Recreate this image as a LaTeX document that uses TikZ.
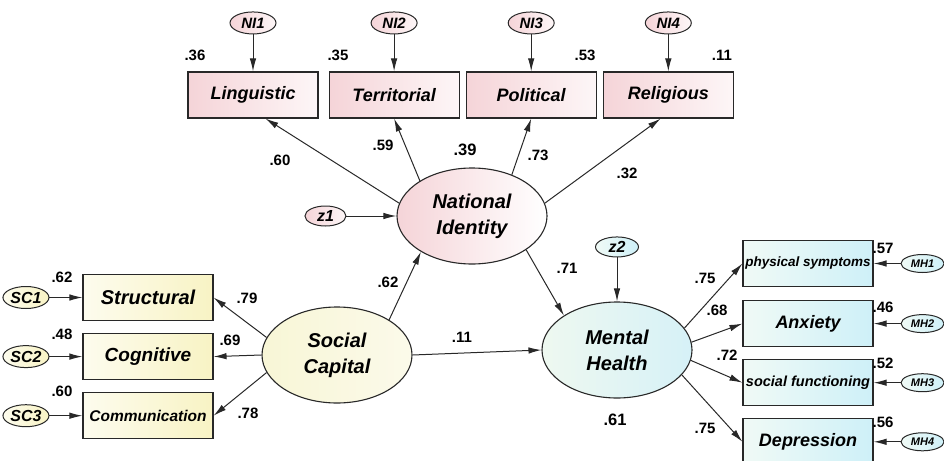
\documentclass[tikz,border=0pt]{standalone}
\usepackage{fontspec}
\setmainfont{Liberation Sans}
\usetikzlibrary{arrows.meta,positioning,shapes.geometric}
\definecolor{edgegray}{RGB}{40,40,40}
\definecolor{pinkL}{RGB}{245,212,216}
\definecolor{pinkR}{RGB}{253,246,247}
\definecolor{yelL}{RGB}{253,252,238}
\definecolor{yelR}{RGB}{248,243,196}
\definecolor{cyanL}{RGB}{240,250,246}
\definecolor{cyanR}{RGB}{206,240,248}
\tikzset{
    %Define standard arrow tip
    >={Latex[length=13pt,width=6.5pt]},
    %Define style for latent variables
    latent/.style={
      ellipse,
      draw=edgegray, line width=1.1pt,
      minimum width=150pt,
      minimum height=96pt,
      inner sep=0pt,
      align=center,
      font=\fontsize{20}{26}\selectfont\bfseries\itshape},
    %Define style for observed variables
    indic/.style={
      rectangle,
      draw=edgegray, line width=1.1pt,
      minimum width=130pt,
      minimum height=46pt,
      inner sep=0pt,
      font=\fontsize{18}{18}\selectfont\bfseries\itshape},
    %Define style for error terms
    err/.style={
      ellipse,
      draw=edgegray, line width=1pt,
      minimum width=46pt,
      minimum height=22pt,
      inner sep=0pt,
      font=\fontsize{15}{15}\selectfont\bfseries\itshape},
    %Define style for coefficients
    coef/.style={
      inner sep=0pt,
      font=\fontsize{15}{15}\selectfont\bfseries},
    % Define colour styles
    pinkfill/.style={left color=pinkL, right color=pinkR},
    yelfill/.style={left color=yelL, right color=yelR},
    cyanfill/.style={left color=cyanL, right color=cyanR},
    % Define arrow style
    arr/.style={
      ->,
      draw=edgegray,
      line width=1pt,}
}
\begin{document}
\begin{tikzpicture}[x=1pt, y=-1pt]
    \useasboundingbox (0,0) rectangle (944,460);
    % latent variables
    \node[latent, left color=pinkL, right color=white] (ni) at (472,216) {National\\Identity};
    \node[latent, left color={rgb,255:red,248;green,246;blue,214}, right color={rgb,255:red,251;green,250;blue,234}] (sc) at (337,355) {Social\\Capital};
    \node[latent, left color={rgb,255:red,238;green,248;blue,240}, right color={rgb,255:red,214;green,241;blue,247}] (mh) at (617,350) {Mental\\Health};
    % national identity indicators
    \node[indic, pinkfill] (ling) at (253,95) {Linguistic};
    \node[indic, pinkfill, right=10pt of ling] (terr) {Territorial};
    \node[indic, pinkfill, right=6pt of terr] (pol) {Political};
    \node[indic, pinkfill, right=6pt of pol] (rel) {Religious};
    \node[err, pinkfill, above=37pt of ling] (ni1) {NI1}
    edge[arr] (ling);
    \node[err, pinkfill, above=37pt of terr] (ni2) {NI2}
    edge[arr] (terr);
    \node[err, pinkfill, above=37pt of pol] (ni3) {NI3}
    edge[arr] (pol);
    \node[err, pinkfill, above=37pt of rel] (ni4) {NI4}
    edge[arr] (rel);
    % social capital indicators
    \node[indic, yelfill, font=\fontsize{20}{20}\selectfont\bfseries\itshape] (struct) at (148,297.5) {Structural};
    \node[indic, yelfill, font=\fontsize{19}{19}\selectfont\bfseries\itshape, below=12pt of struct] (cogn) {Cognitive};
    \node[indic, yelfill, font=\fontsize{15.5}{15.5}\selectfont\bfseries\itshape, below=12pt of cogn] (comm) {Communication};
    \node[err, yelfill, font=\fontsize{16}{16}\selectfont\bfseries\itshape, left=33pt of struct] (sc1) {SC1}
    edge[arr] (struct);
    \node[err, yelfill, font=\fontsize{16}{16}\selectfont\bfseries\itshape, left=33pt of cogn] (sc2) {SC2}
    edge[arr] (cogn);
    \node[err, yelfill, font=\fontsize{16}{16}\selectfont\bfseries\itshape, left=33pt of comm] (sc3) {SC3}
    edge[arr] (comm);
    % mental health indicators
    \node[indic, cyanfill, font=\fontsize{13.5}{13.5}\selectfont\bfseries\itshape] (phys) at (808,263.5) {physical symptoms};
    \node[indic, cyanfill, below=13pt of phys] (anx) {Anxiety};
    \node[indic, cyanfill, font=\fontsize{14.5}{14.5}\selectfont\bfseries\itshape, below=12pt of anx] (socf) {social functioning};
    \node[indic, cyanfill, below=12pt of socf] (depr) {Depression};
    \node[err, cyanfill, font=\fontsize{11}{11}\selectfont\bfseries\itshape, minimum width=43pt, minimum height=18pt, right=27pt of phys] (mh1) {MH1}
    edge[arr] (phys);
    \node[err, cyanfill, font=\fontsize{11}{11}\selectfont\bfseries\itshape, minimum width=43pt, minimum height=18pt, right=27pt of anx] (mh2) {MH2}
    edge[arr] (anx);
    \node[err, cyanfill, font=\fontsize{11}{11}\selectfont\bfseries\itshape, minimum width=43pt, minimum height=18pt, right=27pt of socf] (mh3) {MH3}
    edge[arr] (socf);
    \node[err, cyanfill, font=\fontsize{11}{11}\selectfont\bfseries\itshape, minimum width=43pt, minimum height=18pt, right=27pt of depr] (mh4) {MH4}
    edge[arr] (depr);
    % disturbances
    \node[err, pinkfill, font=\fontsize{16}{16}\selectfont\bfseries\itshape, minimum width=41pt, minimum height=20pt, left=50pt of ni] (z1) {z1}
    edge[arr] (ni);
    \node[err, cyanfill, font=\fontsize{16}{16}\selectfont\bfseries\itshape, minimum width=43pt, minimum height=20pt, above=44pt of mh] (z2) {z2}
    edge[arr] (mh);
    % paths
    \draw[arr] (ni.170) -- (ling.298);
    \draw[arr] (ni.146) -- (terr.south);
    \draw[arr] (ni.46) -- (pol.south);
    \draw[arr] (ni.10) -- (rel.252);
    \draw[arr] (sc.34) -- (ni.215);
    \draw[arr] (sc.east) -- (mh.west);
    \draw[arr] (ni.328) -- (mh.147);
    \draw[arr] (sc.166) -- (struct.east);
    \draw[arr] (sc.west) -- (cogn.east);
    \draw[arr] (sc.194) -- (comm.east);
    \draw[arr] (mh.18) -- (phys.west);
    \draw[arr] (mh.6) -- (anx.west);
    \draw[arr] (mh.352) -- (socf.west);
    \draw[arr] (mh.339) -- (depr.west);
    % coefficients
    \node[coef] (r36) at (195,55) {.36};
    \node[coef] (r35) at (338,55) {.35};
    \node[coef] (r53) at (585,55) {.53};
    \node[coef] (r11) at (722,55) {.11};
    \node[coef] (l60) at (280,160) {.60};
    \node[coef] (l59) at (383,145) {.59};
    \node[coef, font=\fontsize{16.5}{16.5}\selectfont\bfseries] (r39) at (465,150) {.39};
    \node[coef] (l73) at (538,155) {.73};
    \node[coef] (l32) at (627,173) {.32};
    \node[coef] (b62) at (388,282) {.62};
    \node[coef] (b11) at (462,337) {.11};
    \node[coef] (b71) at (567,268) {.71};
    \node[coef, font=\fontsize{16.5}{16.5}\selectfont\bfseries] (r61) at (615,420) {.61};
    \node[coef] (l79) at (247,298) {.79};
    \node[coef] (l69) at (230,340) {.69};
    \node[coef] (l78) at (248,413) {.78};
    \node[coef] (r62) at (62,277) {.62};
    \node[coef] (r48) at (62,334) {.48};
    \node[coef] (r60) at (62,391) {.60};
    \node[coef] (l75a) at (705,278) {.75};
    \node[coef] (l68) at (717,310) {.68};
    \node[coef] (l72) at (727,355) {.72};
    \node[coef] (l75b) at (705,428) {.75};
    \node[coef] (r57) at (883,248) {.57};
    \node[coef] (r46) at (883,307) {.46};
    \node[coef] (r52) at (883,363) {.52};
    \node[coef] (r56) at (883,422) {.56};
\end{tikzpicture}
\end{document}
